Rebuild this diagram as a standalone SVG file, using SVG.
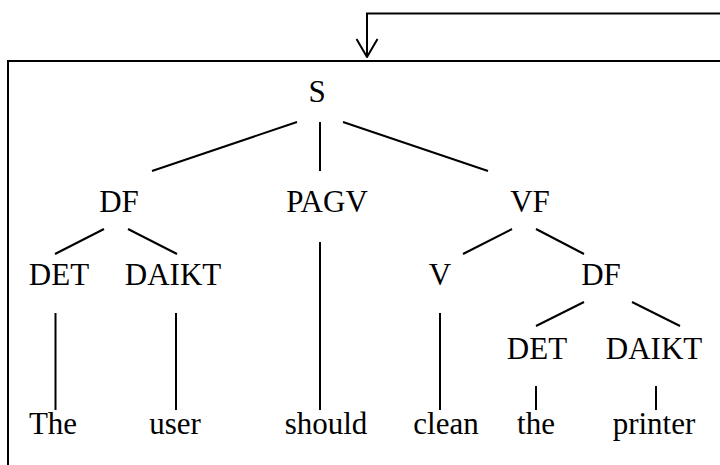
<svg xmlns="http://www.w3.org/2000/svg" width="720" height="465" viewBox="0 0 720 465">
  <style>
    .lbl { font-family: 'Liberation Serif', 'Times New Roman', 'DejaVu Serif', serif; font-size: 31px; fill: #000; text-anchor: middle; }
    .ln { stroke: #000; stroke-width: 2; fill: none; }
  </style>
  <defs>
    <marker id="openHead" markerUnits="userSpaceOnUse" markerWidth="24" markerHeight="26" viewBox="-20 -13 24 26" refX="0" refY="0" orient="auto">
      <path d="M-18,-10.5 L0,0 L-18,10.5" fill="none" stroke="#000" stroke-width="2" stroke-linejoin="round"/>
    </marker>
  </defs>
  <rect width="720" height="465" fill="#fff"/>

  <!-- frame around the tree -->
  <g id="frame">
    <path class="ln" d="M720,61 H8 V465"/>
  </g>

  <g id="connectors">
    <!-- feedback arrow into the frame -->
    <path class="ln" d="M720,13.5 H367 V57" marker-end="url(#openHead)"/>
    <!-- S -->
    <line class="ln" x1="297" y1="122" x2="152" y2="171"/>
    <line class="ln" x1="320" y1="122" x2="320" y2="171"/>
    <line class="ln" x1="343" y1="122" x2="488" y2="171"/>
    <!-- DF (subject) -->
    <line class="ln" x1="104" y1="229" x2="55" y2="254"/>
    <line class="ln" x1="128" y1="229" x2="177" y2="254"/>
    <!-- PAGV -->
    <line class="ln" x1="320" y1="242" x2="320" y2="410"/>
    <!-- VF -->
    <line class="ln" x1="512" y1="229" x2="463" y2="254"/>
    <line class="ln" x1="536" y1="229" x2="584" y2="254"/>
    <!-- DF (object) -->
    <line class="ln" x1="584" y1="302" x2="536" y2="326"/>
    <line class="ln" x1="632" y1="302" x2="680" y2="326"/>
    <!-- leaves -->
    <line class="ln" x1="55.5" y1="313" x2="55.5" y2="410"/>
    <line class="ln" x1="176" y1="313" x2="176" y2="410"/>
    <line class="ln" x1="440" y1="313" x2="440" y2="410"/>
    <line class="ln" x1="536" y1="386" x2="536" y2="410"/>
    <line class="ln" x1="656" y1="386" x2="656" y2="410"/>
  </g>

  <g id="n-S"><text class="lbl" x="317" y="102">S</text></g>
  <g id="n-DF1"><text class="lbl" x="119" y="212">DF</text></g>
  <g id="n-PAGV"><text class="lbl" x="327" y="212">PAGV</text></g>
  <g id="n-VF"><text class="lbl" x="530" y="212">VF</text></g>
  <g id="n-DET1"><text class="lbl" x="59" y="285">DET</text></g>
  <g id="n-DAIKT1"><text class="lbl" x="173" y="285">DAIKT</text></g>
  <g id="n-V"><text class="lbl" x="440" y="285">V</text></g>
  <g id="n-DF2"><text class="lbl" x="601" y="285">DF</text></g>
  <g id="n-DET2"><text class="lbl" x="537" y="359">DET</text></g>
  <g id="n-DAIKT2"><text class="lbl" x="654" y="359">DAIKT</text></g>
  <g id="w-The"><text class="lbl" x="53" y="434">The</text></g>
  <g id="w-user"><text class="lbl" x="175" y="434">user</text></g>
  <g id="w-should"><text class="lbl" x="326" y="434">should</text></g>
  <g id="w-clean"><text class="lbl" x="446" y="434">clean</text></g>
  <g id="w-the"><text class="lbl" x="536" y="434">the</text></g>
  <g id="w-printer"><text class="lbl" x="654" y="434">printer</text></g>
</svg>
